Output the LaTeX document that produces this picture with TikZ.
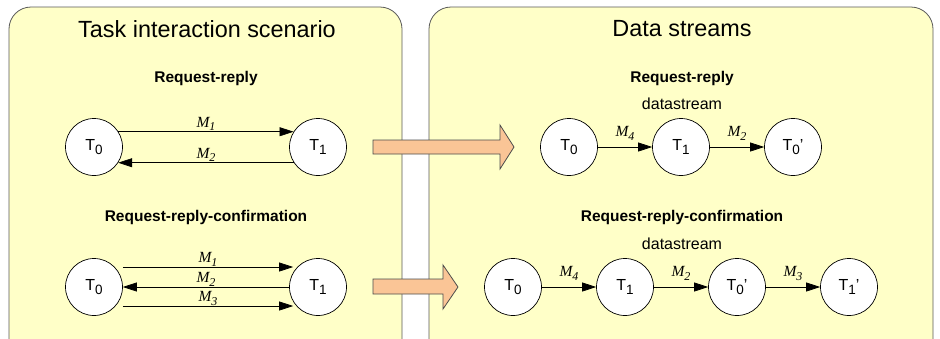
\documentclass[tikz,border=0pt]{standalone}
\usepackage{fontspec}
\setmainfont{Liberation Sans}
\newfontfamily\tnr{Liberation Serif}
\usetikzlibrary{arrows.meta,calc}
\definecolor{panelfill}{RGB}{255,255,200}
\definecolor{arrowfill}{RGB}{250,197,150}
% lowered index for task names and message names
\newcommand{\tidx}[1]{\raisebox{-3.5pt}{\fontsize{13.5}{14}\selectfont #1}}
\newcommand{\midx}[1]{\raisebox{-3.3pt}{\fontsize{12}{13}\selectfont #1}}
\begin{document}
\begin{tikzpicture}[x=1pt,y=-1pt,
  panel/.style={draw=black!65, fill=panelfill, line width=0.8pt, rounded corners=22pt},
  task/.style={circle, draw, line width=0.7pt, fill=white, minimum size=57pt, inner sep=0pt,
    font=\fontsize{16}{18}\selectfont},
  msg/.style={-{Triangle[length=14pt,width=9pt]}, line width=0.7pt},
  mlabel/.style={font=\tnr\itshape\fontsize{15.5}{17}\selectfont, inner sep=0.5pt},
  heading/.style={font=\fontsize{23.4}{26}\selectfont},
  subhead/.style={font=\bfseries\fontsize{15.5}{17}\selectfont},
  note/.style={font=\fontsize{16}{18}\selectfont},
  bigarrow/.style={draw=black!70, fill=arrowfill, line width=0.8pt}]
\clip (0,0) rectangle (940,338);

% the two panels
\path[panel] (9,7) rectangle (402,372);
\path[panel] (429,7) rectangle (933,372);

% left panel: interaction scenarios
\node[heading] (hl) at (207,29) {Task interaction scenario};
\node[subhead] (rrl) at (206,78) {Request-reply};
\node[subhead] (rrcl) at (206,217) {Request-reply-confirmation};

\node[task] (a0) at (94,147) {T\tidx{0}};
\node[task] (a1) at (318,147) {T\tidx{1}};
\draw[msg] (a0.32) -- node[mlabel,above] {M\midx{1}} (a1.148);
\draw[msg] (a1.-147) -- node[mlabel,above] {M\midx{2}} (a0.-33);

\node[task] (b0) at (94,287) {T\tidx{0}};
\node[task] (b1) at (318,287) {T\tidx{1}};
\draw[msg] ($(b0.east)+(0,-20)$) -- node[mlabel,above] {M\midx{1}} ($(b1.west)+(4,-20)$);
\draw[msg] (b1.west) -- node[mlabel,above] {M\midx{2}} (b0.east);
\draw[msg] ($(b0.east)+(0,19)$) -- node[mlabel,above] {M\midx{3}} ($(b1.west)+(4,19)$);

% transformation arrows
\path[bigarrow] (373,140) -- (500,140) -- (500,125) -- (514,147) -- (500,169) -- (500,154) -- (373,154) -- cycle;
\path[bigarrow] (373,279) -- (443,279) -- (443,265) -- (458,287) -- (443,309) -- (443,294) -- (373,294) -- cycle;

% right panel: resulting data streams
\node[heading] (hr) at (682,29) {Data streams};
\node[subhead] (rrr) at (682,78) {Request-reply};
\node[note] (dsa) at (682,104) {datastream};
\node[subhead] (rrcr) at (682,217) {Request-reply-confirmation};
\node[note] (dsb) at (682,244) {datastream};

\node[task] (c0) at (569,147) {T\tidx{0}};
\node[task] (c1) at (681,147) {T\tidx{1}};
\node[task] (c2) at (793,147) {T\tidx{0}’};
\draw[msg] (c0) -- node[mlabel,above=6pt] {M\midx{4}} (c1);
\draw[msg] (c1) -- node[mlabel,above=6pt] {M\midx{2}} (c2);

\node[task] (d0) at (513,287) {T\tidx{0}};
\node[task] (d1) at (625,287) {T\tidx{1}};
\node[task] (d2) at (737,287) {T\tidx{0}’};
\node[task] (d3) at (849,287) {T\tidx{1}’};
\draw[msg] (d0) -- node[mlabel,above=6pt] {M\midx{4}} (d1);
\draw[msg] (d1) -- node[mlabel,above=6pt] {M\midx{2}} (d2);
\draw[msg] (d2) -- node[mlabel,above=6pt] {M\midx{3}} (d3);
\end{tikzpicture}
\end{document}
